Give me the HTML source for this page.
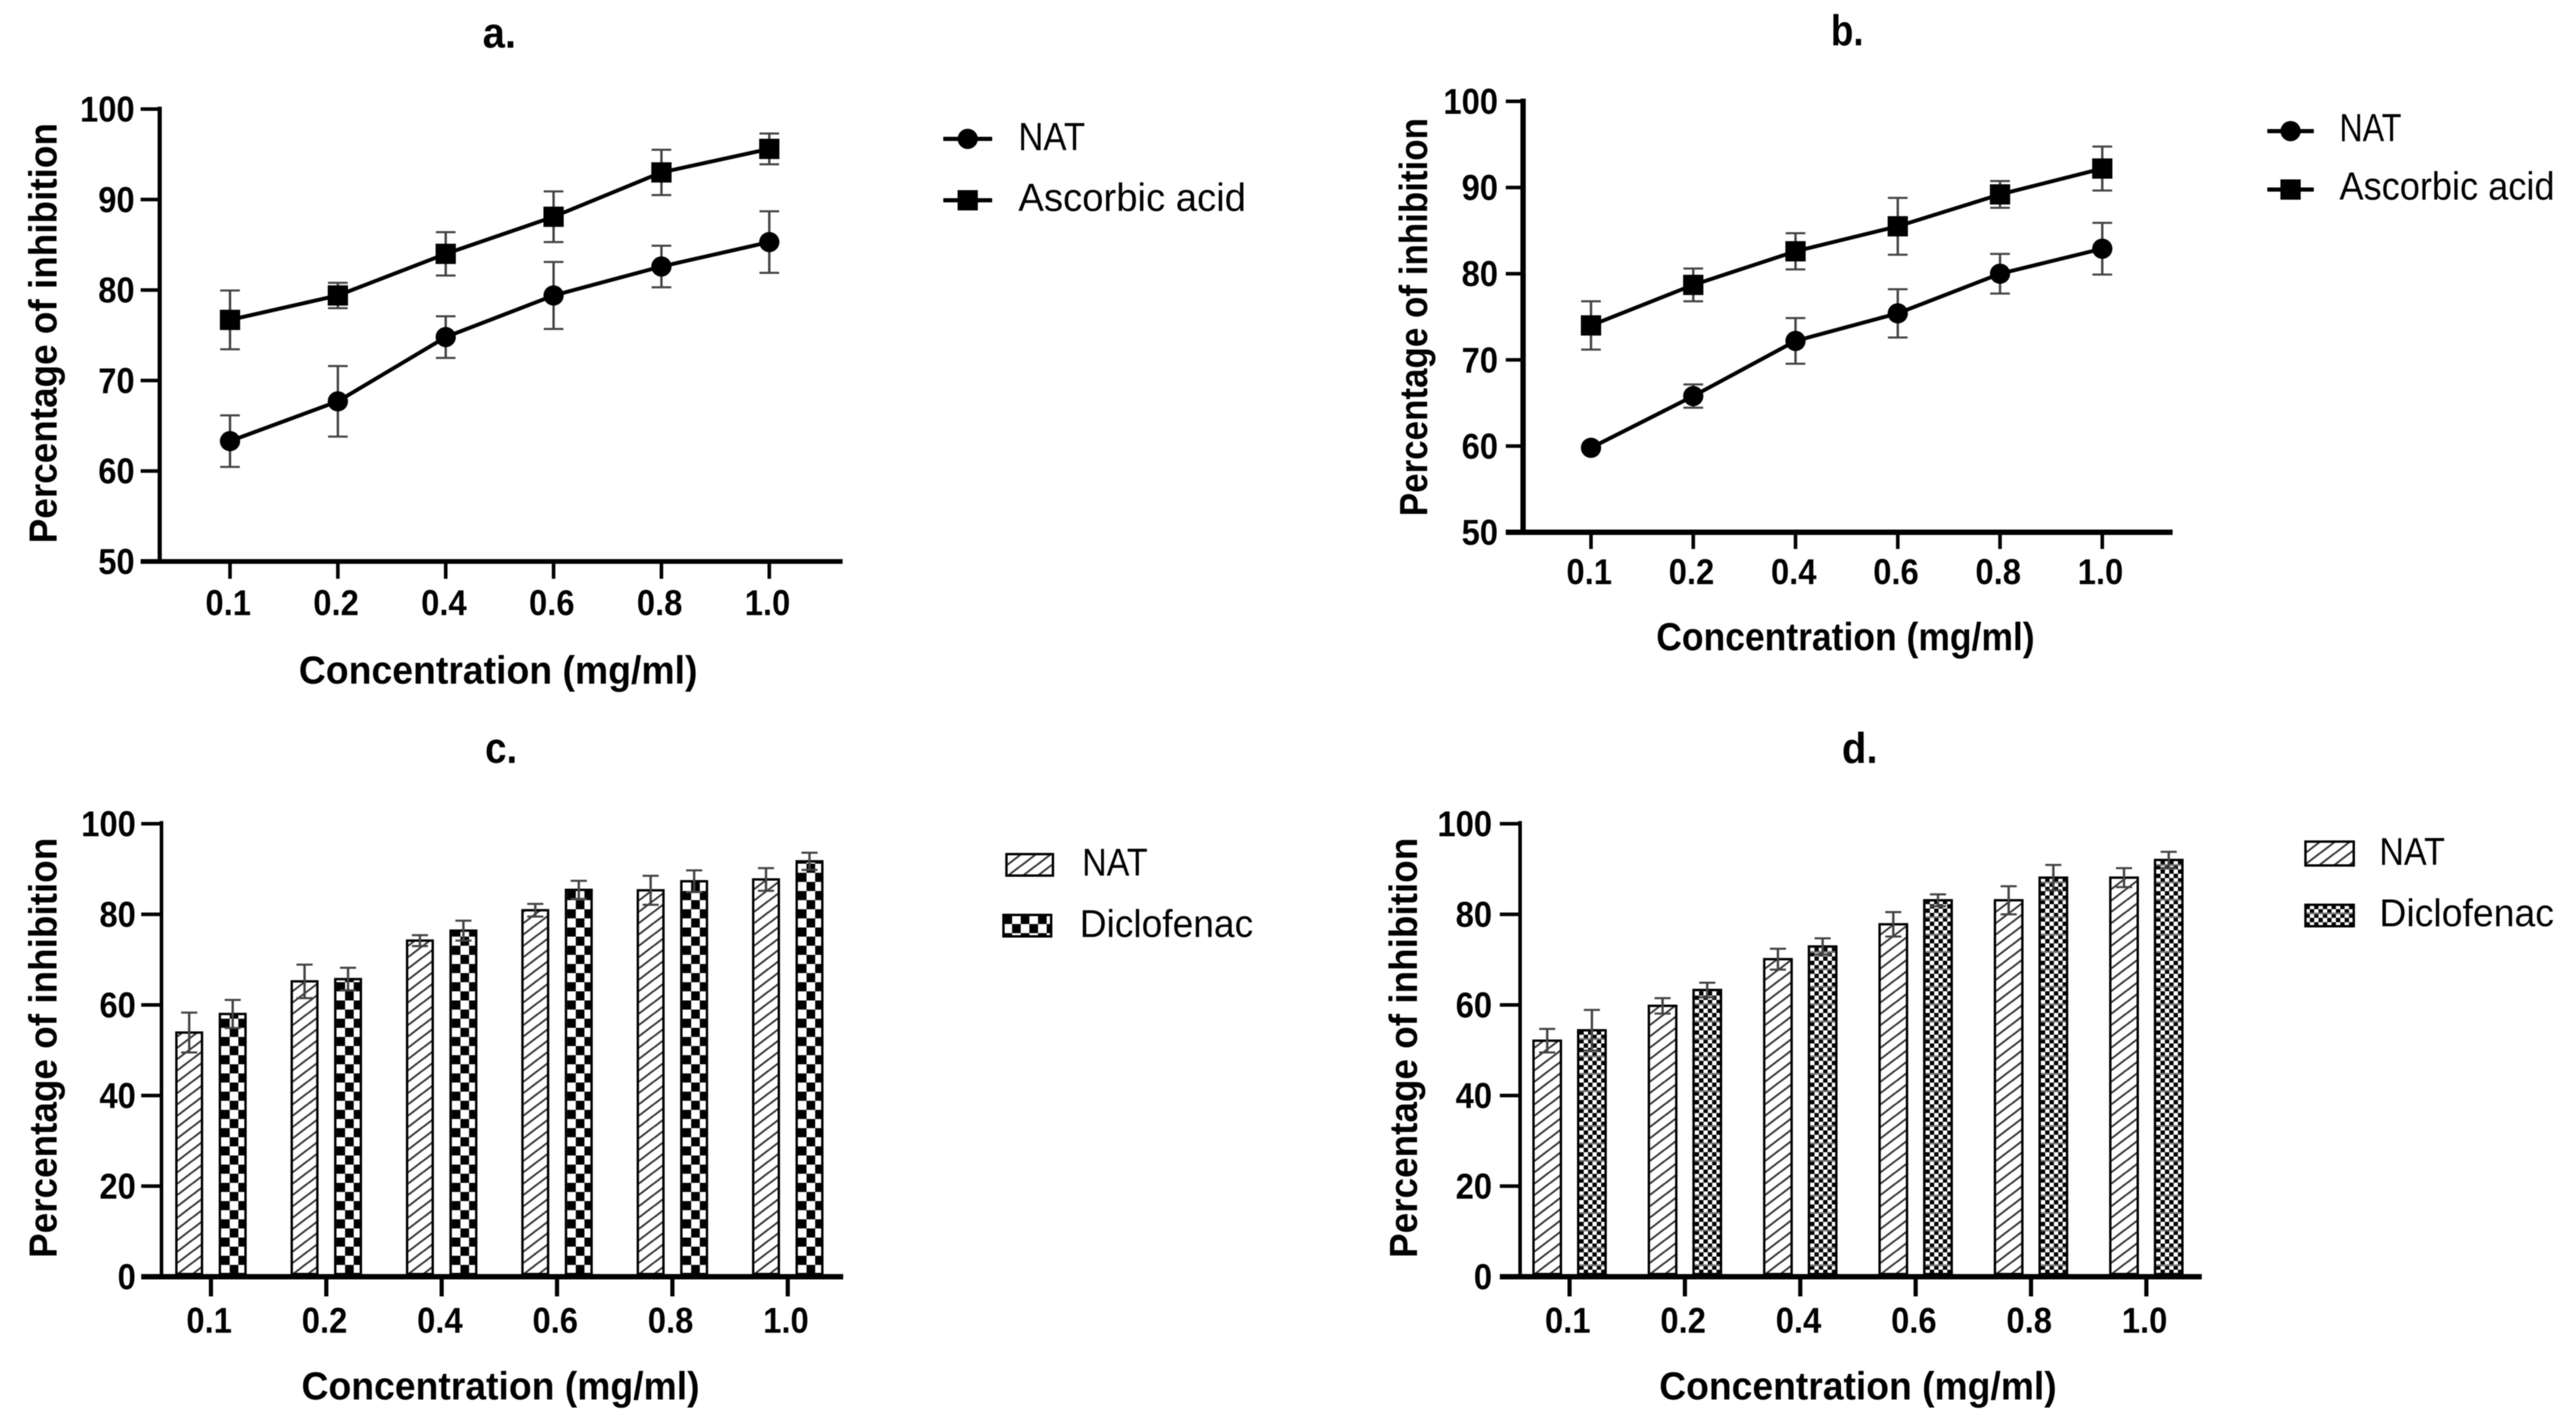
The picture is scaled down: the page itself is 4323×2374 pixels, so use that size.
<!DOCTYPE html>
<html lang="en">
<head>
<meta charset="utf-8">
<title>Percentage of inhibition charts</title>
<style>
html,body{margin:0;padding:0;background:#fff;width:4323px;height:2374px;overflow:hidden}
svg{display:block;filter:blur(0.9px)}
text{font-family:"Liberation Sans",Arial,sans-serif;fill:#000}
</style>
</head>
<body>
<svg id="figure" xmlns="http://www.w3.org/2000/svg" width="4323" height="2374" viewBox="0 0 4323 2374">
  <defs>
    <pattern id="hatch" patternUnits="userSpaceOnUse" width="25" height="19">
      <rect width="25" height="19" fill="#fff"/>
      <path d="M-5 23 L30 -4" stroke="#3a3a3a" stroke-width="3.2" fill="none"/>
      <path d="M-30 23 L5 -4 M20 23 L55 -4" stroke="#3a3a3a" stroke-width="3.2" fill="none"/>
    </pattern>
    <pattern id="checker-large" patternUnits="userSpaceOnUse" width="29" height="30.6">
      <rect width="29" height="30.6" fill="#fff"/>
      <rect x="0" y="0" width="14.5" height="15.3" fill="#000"/>
      <rect x="14.5" y="15.3" width="14.5" height="15.3" fill="#000"/>
    </pattern>
    <pattern id="checker-small" patternUnits="userSpaceOnUse" width="14.6" height="29.2">
      <rect width="14.6" height="29.2" fill="#fff"/>
      <rect x="0" y="0" width="7.3" height="7.3" fill="#000"/>
      <rect x="7.3" y="7.3" width="7.3" height="7.3" fill="#000"/>
      <rect x="0" y="14.6" width="7.3" height="7.3" fill="#000"/>
      <rect x="7.3" y="21.9" width="7.3" height="7.3" fill="#000"/>
      <rect x="0" y="13" width="14.6" height="3" fill="#777"/>
    </pattern>
  </defs>
</svg>
<script>
const categories = ['0.1', '0.2', '0.4', '0.6', '0.8', '1.0'];
const lineTicksLow = [50, 60, 70, 80, 90, 100];
const barTicks = [0, 20, 40, 60, 80, 100];

const aNat = [63.3, 67.7, 74.8, 79.4, 82.6, 85.3];
const aNatErr = [2.85, 3.9, 2.3, 3.7, 2.3, 3.4];
const aAscorbic = [76.7, 79.4, 84.0, 88.1, 93.0, 95.6];
const aAscorbicErr = [3.25, 1.4, 2.4, 2.8, 2.5, 1.7];

const bNat = [59.8, 65.8, 72.2, 75.4, 80.0, 82.9];
const bNatErr = [0, 1.35, 2.65, 2.8, 2.3, 3.0];
const bAscorbic = [74.0, 78.7, 82.6, 85.5, 89.2, 92.2];
const bAscorbicErr = [2.8, 1.9, 2.1, 3.3, 1.55, 2.55];

const cNat = [53.9, 65.2, 74.2, 80.9, 85.3, 87.7];
const cNatErr = [4.4, 3.7, 1.2, 1.4, 3.2, 2.5];
const cDiclofenac = [58.0, 65.7, 76.4, 85.4, 87.3, 91.7];
const cDiclofenacErr = [3.1, 2.5, 2.2, 2.0, 2.4, 1.9];

const dNat = [52.1, 59.8, 70.1, 77.8, 83.1, 88.1];
const dNatErr = [2.6, 1.7, 2.3, 2.7, 3.1, 2.1];
const dDiclofenac = [54.4, 63.3, 72.9, 83.1, 88.1, 92.0];
const dDiclofenacErr = [4.5, 1.6, 1.8, 1.3, 2.8, 1.8];

const SVG_NS = 'http://www.w3.org/2000/svg';
const figure = document.getElementById('figure');

function make(parent, tag, attrs) {
  const node = document.createElementNS(SVG_NS, tag);
  for (const key in attrs) node.setAttribute(key, attrs[key]);
  parent.appendChild(node);
  return node;
}

function makeText(parent, str, x, y, size, weight, anchor, length, rotate) {
  const attrs = {x: x, y: y, 'font-size': size, 'font-weight': weight, 'text-anchor': anchor};
  if (length) {
    attrs.textLength = length;
    attrs.lengthAdjust = 'spacingAndGlyphs';
  }
  if (rotate) attrs.transform = 'rotate(-90 ' + x + ' ' + y + ')';
  const node = make(parent, 'text', attrs);
  node.textContent = str;
  return node;
}

function numberLength(str) {
  const digits = str.replace('.', '').length;
  return 55 * (0.556 * digits + (str.indexOf('.') >= 0 ? 0.278 : 0));
}

function scales(p) {
  return {
    x: function (i) { return p.firstTick + i * p.tickStep; },
    y: function (v) { return p.yBottom - (v - p.min) / (p.max - p.min) * (p.yBottom - p.yTop); }
  };
}

function drawFrame(p, ticks) {
  const s = scales(p);
  const g = make(figure, 'g', {});
  
  

  const title = makeText(g, p.id + '.', p.titleX, p.titleY, 72, 'bold', 'middle', p.titleW);
  
  

  const yAxis = make(g, 'line', {x1: p.axisX, x2: p.axisX, y1: p.yTop - p.xw / 2, y2: p.yBottom + p.xw / 2, stroke: '#000', 'stroke-width': p.yw});
  
  

  const xAxis = make(g, 'line', {x1: p.tickLeft, x2: p.axisEnd, y1: p.yBottom, y2: p.yBottom, stroke: '#000', 'stroke-width': p.xw});
  
  

  ticks.forEach(function (t) {
    const tick = make(g, 'line', {x1: p.tickLeft, x2: p.axisX, y1: s.y(t), y2: s.y(t), stroke: '#000', 'stroke-width': t === p.min ? p.xw : 6});
    
    
    const label = makeText(g, String(t), p.yLabelRight, s.y(t) + 21, 60, 'bold', 'end', numberLength(String(t)));
    
    
  });

  categories.forEach(function (c, i) {
    const tick = make(g, 'line', {x1: s.x(i), x2: s.x(i), y1: p.yBottom, y2: p.tickBottom, stroke: '#000', 'stroke-width': p.xTickW});
    
    
    const label = makeText(g, c, s.x(i) - 3, p.xLabelY, 60, 'bold', 'middle', numberLength(c));
    
    
  });

  const yTitle = makeText(g, 'Percentage of inhibition', p.yTitleX, p.yTitleMid, 66, 'bold', 'middle', p.yTitleLen, true);
  
  

  const xTitle = makeText(g, 'Concentration (mg/ml)', p.xTitleMid, p.xTitleY, 66, 'bold', 'middle', p.xTitleLen);
  
  
  return g;
}

function drawError(g, x, yTop, yBot, capW) {
  const stem = make(g, 'line', {x1: x, x2: x, y1: yTop, y2: yBot, stroke: '#444', 'stroke-width': 4});
  
  
  const top = make(g, 'line', {x1: x - capW / 2, x2: x + capW / 2, y1: yTop, y2: yTop, stroke: '#444', 'stroke-width': 3.5});
  
  
  const bot = make(g, 'line', {x1: x - capW / 2, x2: x + capW / 2, y1: yBot, y2: yBot, stroke: '#444', 'stroke-width': 3.5});
  
  
}

function drawMarker(g, kind, cx, cy, size) {
  let m;
  if (kind === 'circle') {
    m = make(g, 'circle', {cx: cx, cy: cy, r: size / 2, fill: '#000'});
  } else {
    m = make(g, 'rect', {x: cx - size / 2, y: cy - size / 2, width: size, height: size, fill: '#000'});
  }
  
  
}

function drawSeries(g, p, name, kind, vals, errs) {
  const s = scales(p);
  const sg = make(g, 'g', {});
  
  
  vals.forEach(function (v, i) {
    if (errs[i] > 0) drawError(sg, s.x(i), s.y(v + errs[i]), s.y(v - errs[i]), 33);
  });
  const pts = vals.map(function (v, i) { return s.x(i) + ',' + s.y(v); }).join(' ');
  const line = make(sg, 'polyline', {points: pts, fill: 'none', stroke: '#000', 'stroke-width': 6.5});
  
  
  vals.forEach(function (v, i) { drawMarker(sg, kind, s.x(i), s.y(v), 34); });
}

function drawLineLegend(g, p) {
  const rows = [
    {label: 'NAT', kind: 'circle', y: p.legY1, base: p.legBase1, len: p.legLen1},
    {label: 'Ascorbic acid', kind: 'square', y: p.legY2, base: p.legBase2, len: p.legLen2}
  ];
  rows.forEach(function (r) {
    const entry = make(g, 'g', {});
    
    
    const key = make(entry, 'line', {x1: p.legX1, x2: p.legX2, y1: r.y, y2: r.y, stroke: '#000', 'stroke-width': 7});
    
    
    drawMarker(entry, r.kind, (p.legX1 + p.legX2) / 2, r.y, 34);
    const t = makeText(entry, r.label, p.legTextX, r.base, 66, 'normal', 'start', r.len);
    
    
  });
}

function drawBar(g, name, fill, left, top, width, bottom) {
  const bar = make(g, 'rect', {
    x: -2, y: -(bottom - top), width: width - 4, height: bottom - top,
    transform: 'translate(' + (left + 4) + ' ' + bottom + ')',
    fill: 'url(#' + fill + ')', stroke: '#000', 'stroke-width': 4
  });
  
  
}

function drawBarSeries(g, p, name, fill, offset, vals, errs) {
  const s = scales(p);
  const sg = make(g, 'g', {});
  
  
  vals.forEach(function (v, i) {
    const cx = s.x(i) + offset;
    drawBar(sg, 'bar-' + name + '-' + categories[i], fill, cx - p.barW / 2, s.y(v), p.barW, p.yBottom - p.xw / 2);
    drawError(sg, cx, s.y(v + errs[i]), s.y(v - errs[i]), 27);
  });
}

function drawBarLegend(g, p) {
  const rows = [
    {label: 'NAT', fill: 'hatch', box: p.leg1, base: p.legBase1, x: p.legText1, len: p.legLen1},
    {label: 'Diclofenac', fill: p.fill, box: p.leg2, base: p.legBase2, x: p.legText2, len: p.legLen2}
  ];
  rows.forEach(function (r) {
    const entry = make(g, 'g', {});
    
    
    const b = r.box;
    const sw = make(entry, 'rect', {
      x: 0, y: 0, width: b.w, height: b.h,
      transform: 'translate(' + b.x + ' ' + b.y + ')',
      fill: 'url(#' + r.fill + ')', stroke: '#000', 'stroke-width': 4
    });
    
    
    const t = makeText(entry, r.label, r.x, r.base, 65, 'normal', 'start', r.len);
    
    
  });
}

const layoutA = {id: 'a', min: 50, max: 100, yTop: 183, yBottom: 942, axisX: 268, axisEnd: 1414, tickLeft: 236, tickBottom: 971,
  firstTick: 386, tickStep: 181, xw: 8, yw: 7, xTickW: 6, yLabelRight: 226, xLabelY: 1032,
  titleX: 838, titleY: 80, titleW: 56, yTitleX: 95, yTitleMid: 559, yTitleLen: 705, xTitleMid: 836, xTitleY: 1147, xTitleLen: 669,
  legX1: 1583, legX2: 1665, legY1: 233, legY2: 336, legTextX: 1709, legBase1: 252, legBase2: 354, legLen1: 112, legLen2: 382};
const layoutB = {id: 'b', min: 50, max: 100, yTop: 170, yBottom: 893, axisX: 2556, axisEnd: 3646, tickLeft: 2527, tickBottom: 921,
  firstTick: 2670, tickStep: 171.6, xw: 9, yw: 9, xTickW: 6, yLabelRight: 2514, xLabelY: 980,
  titleX: 3100, titleY: 76, titleW: 55, yTitleX: 2395, yTitleMid: 532, yTitleLen: 668, xTitleMid: 3097, xTitleY: 1091, xTitleLen: 635,
  legX1: 3805, legX2: 3883, legY1: 220, legY2: 318, legTextX: 3926, legBase1: 237, legBase2: 335, legLen1: 104, legLen2: 361};
const layoutC = {id: 'c', min: 0, max: 100, yTop: 1382, yBottom: 2142, axisX: 271, axisEnd: 1415, tickLeft: 237, tickBottom: 2175,
  firstTick: 354, tickStep: 193.6, xw: 9, yw: 6, xTickW: 7, yLabelRight: 228, xLabelY: 2236, barW: 47, barOffset: 36.5, fill: 'checker-large',
  titleX: 841, titleY: 1280, titleW: 54, yTitleX: 95, yTitleMid: 1758, yTitleLen: 705, xTitleMid: 840, xTitleY: 2348, xTitleLen: 668,
  leg1: {x: 1689, y: 1433, w: 78, h: 36}, leg2: {x: 1684, y: 1535, w: 80, h: 36},
  legText1: 1816, legText2: 1812, legBase1: 1469, legBase2: 1572, legLen1: 110, legLen2: 291};
const layoutD = {id: 'd', min: 0, max: 100, yTop: 1382, yBottom: 2142, axisX: 2551, axisEnd: 3695, tickLeft: 2517, tickBottom: 2175,
  firstTick: 2634, tickStep: 193.6, xw: 9, yw: 6, xTickW: 7, yLabelRight: 2504, xLabelY: 2236, barW: 50, barOffset: 37.5, fill: 'checker-small',
  titleX: 3121, titleY: 1280, titleW: 60, yTitleX: 2378, yTitleMid: 1758, yTitleLen: 705, xTitleMid: 3118, xTitleY: 2348, xTitleLen: 667,
  leg1: {x: 3869, y: 1412, w: 81, h: 40}, leg2: {x: 3869, y: 1518, w: 81, h: 36},
  legText1: 3993, legText2: 3993, legBase1: 1451, legBase2: 1554, legLen1: 110, legLen2: 293};

const panelA = drawFrame(layoutA, lineTicksLow);
drawSeries(panelA, layoutA, 'nat', 'circle', aNat, aNatErr);
drawSeries(panelA, layoutA, 'ascorbic-acid', 'square', aAscorbic, aAscorbicErr);
drawLineLegend(panelA, layoutA);

const panelB = drawFrame(layoutB, lineTicksLow);
drawSeries(panelB, layoutB, 'nat', 'circle', bNat, bNatErr);
drawSeries(panelB, layoutB, 'ascorbic-acid', 'square', bAscorbic, bAscorbicErr);
drawLineLegend(panelB, layoutB);

const panelC = drawFrame(layoutC, barTicks);
drawBarSeries(panelC, layoutC, 'nat', 'hatch', -layoutC.barOffset, cNat, cNatErr);
drawBarSeries(panelC, layoutC, 'diclofenac', layoutC.fill, layoutC.barOffset, cDiclofenac, cDiclofenacErr);
drawBarLegend(panelC, layoutC);

const panelD = drawFrame(layoutD, barTicks);
drawBarSeries(panelD, layoutD, 'nat', 'hatch', -layoutD.barOffset, dNat, dNatErr);
drawBarSeries(panelD, layoutD, 'diclofenac', layoutD.fill, layoutD.barOffset, dDiclofenac, dDiclofenacErr);
drawBarLegend(panelD, layoutD);
</script>
</body>
</html>
